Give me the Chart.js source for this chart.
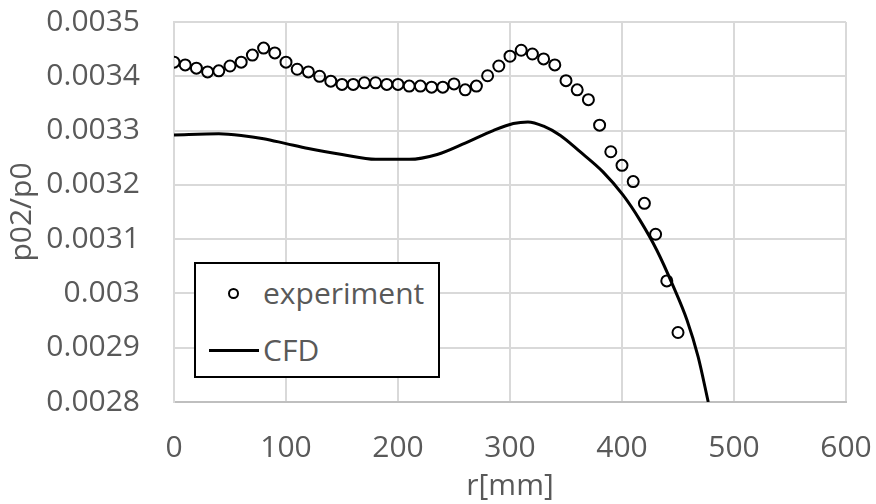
<!DOCTYPE html>
<html>
<head>
<meta charset="utf-8">
<script src="https://cdn.jsdelivr.net/npm/chart.js@4"></script>
<style>
  body { margin: 0; background: #fff; }
  #wrap { position: relative; width: 876px; height: 504px; }
  #legend {
    position: absolute; left: 194px; top: 262px; width: 242px; height: 112px;
    border: 2px solid #000; background: #fff;
    font-family: "Open Sans", sans-serif; font-size: 30px; color: #595959;
  }
  .row { position: absolute; left: 0; height: 40px; line-height: 40px; }
  .row span { position: absolute; left: 67px; white-space: nowrap; }
  .dot { position: absolute; left: 32px; top: 15px; width: 7px; height: 7px; border: 2px solid #000; border-radius: 50%; }
  .dash { position: absolute; left: 13px; top: 19px; width: 50px; height: 3px; background: #000; }
</style>
</head>
<body>
<div id="wrap">
  <canvas id="chart" width="876" height="504"></canvas>
  <div id="legend">
    <div class="row" style="top:9px"><div class="dot"></div><span>experiment</span></div>
    <div class="row" style="top:66px"><div class="dash"></div><span>CFD</span></div>
  </div>
</div>
<script>
// experiment points, r in mm
const expR = [0, 10, 20, 30, 40, 50, 60, 70, 80, 90,
  100, 110, 120, 130, 140, 150, 160, 170, 180, 190,
  200, 210, 220, 230, 240, 250, 260, 270, 280, 290,
  300, 310, 320, 330, 340, 350, 360, 370, 380, 390,
  400, 410, 420, 430, 440, 450];
const expVal = [0.003426, 0.003421, 0.003415, 0.003408, 0.003410, 0.003419, 0.003426, 0.003439, 0.003452, 0.003443,
  0.003426, 0.003413, 0.003408, 0.003400, 0.003391, 0.003385, 0.003385, 0.003388, 0.003388, 0.003385,
  0.003385, 0.003382, 0.003382, 0.003380, 0.003380, 0.003386, 0.003375, 0.003382, 0.003401, 0.003419,
  0.003437, 0.003448, 0.003441, 0.003432, 0.003421, 0.003392, 0.003375, 0.003357, 0.003310, 0.003261,
  0.003236, 0.003206, 0.003166, 0.003109, 0.003023, 0.002928];

// CFD curve
const cfdR = [0, 40, 60, 80, 100, 120, 150, 180, 210, 235, 260, 285, 303, 316, 330, 345, 362, 383, 401, 416, 431, 446, 458, 468, 477];
const cfdVal = [0.003292, 0.003294, 0.003291, 0.003285, 0.003276, 0.003267, 0.003256, 0.003247, 0.003247, 0.003256,
  0.003277, 0.003300, 0.003313, 0.003316, 0.003308, 0.003291, 0.003262, 0.003224, 0.003181, 0.003135,
  0.003080, 0.003012, 0.002951, 0.002883, 0.002800];

const xMin = 0, xMax = 600, xStep = 100;
const yMin = 0.0028, yMax = 0.0035, yStep = 0.0001;

const font = { family: "'Open Sans', sans-serif", size: 30 };
const textColor = '#595959';
const gridColor = '#d9d9d9';

const ctx = document.getElementById('chart').getContext('2d');
new Chart(ctx, {
  type: 'scatter',
  data: {
    datasets: [
      {
        label: 'experiment',
        data: expR.map((r, i) => ({ x: r, y: expVal[i] })),
        pointRadius: 5.5,
        pointBorderWidth: 2,
        pointBorderColor: '#000',
        pointBackgroundColor: 'rgba(0,0,0,0)',
        showLine: false
      },
      {
        label: 'CFD',
        data: cfdR.map((r, i) => ({ x: r, y: cfdVal[i] })),
        showLine: true,
        borderColor: '#000',
        borderWidth: 3,
        pointRadius: 0,
        cubicInterpolationMode: 'monotone'
      }
    ]
  },
  options: {
    responsive: false,
    animation: false,
    layout: { padding: { top: 22, right: 30, left: 0, bottom: 0 } },
    plugins: { legend: { display: false }, tooltip: { enabled: false } },
    scales: {
      x: {
        type: 'linear',
        min: xMin, max: xMax,
        ticks: { stepSize: xStep, color: textColor, font: font, padding: 28 },
        grid: { color: gridColor, lineWidth: 2, drawTicks: false },
        border: { color: '#bfbfbf', width: 2 },
        title: { display: true, text: 'r[mm]', color: textColor, font: font, padding: { top: 0, bottom: 0 } },
        afterFit: (s) => { s.height = 102; s.paddingLeft = 0; s.paddingRight = 0; }
      },
      y: {
        min: yMin, max: yMax,
        ticks: {
          stepSize: yStep, color: textColor, font: font, padding: 34,
          callback: (v) => String(Number(v.toFixed(4)))
        },
        grid: { color: gridColor, lineWidth: 2, drawTicks: false },
        border: { color: gridColor, width: 2 },
        title: { display: true, text: 'p02/p0', color: textColor, font: font, padding: { top: 4, bottom: 0 } },
        afterFit: (s) => { s.width = 174; s.paddingTop = 0; s.paddingBottom = 0; }
      }
    }
  }
});
</script>
</body>
</html>
